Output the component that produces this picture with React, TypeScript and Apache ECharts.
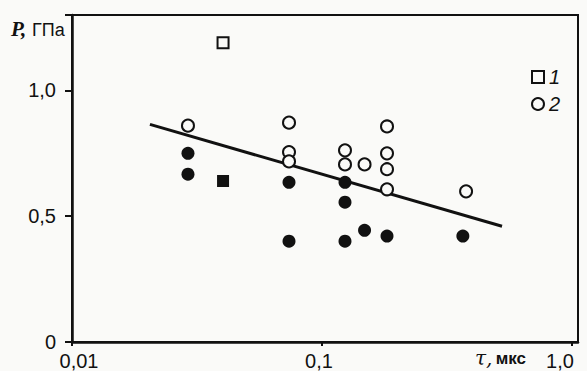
import { useEffect, useRef } from 'react';
import * as echarts from 'echarts';

const openSquares = [[0.0402, 1.19]];
const filledSquares = [[0.0402, 0.64]];
const openCircles = [
  [0.0291, 0.86], [0.0738, 0.872], [0.0738, 0.755], [0.0738, 0.718],
  [0.1236, 0.762], [0.1236, 0.706], [0.148, 0.706], [0.182, 0.857],
  [0.182, 0.75], [0.182, 0.687], [0.182, 0.607], [0.377, 0.599],
];
const filledCircles = [
  [0.0291, 0.75], [0.0291, 0.667], [0.0738, 0.635], [0.0738, 0.401],
  [0.1236, 0.635], [0.1236, 0.556], [0.1236, 0.401], [0.148, 0.444],
  [0.182, 0.421], [0.366, 0.421],
];
const trendLine = [[0.0205, 0.865], [0.525, 0.46]];
const xTicks = [0.01, 0.1, 1];
const xTickLabels = ['0,01', '0,1', '1,0'];
const xTickRich = ['a', 'b', 'c'];
const yTicks = [0, 0.5, 1];
const yTickLabels = ['0', '0,5', '1,0'];

const INK = '#111';
const BG = '#fafaf8';

export default function App() {
  const ref = useRef<HTMLDivElement>(null);
  useEffect(() => {
    if (!ref.current) return;
    const chart = echarts.init(ref.current, undefined, { renderer: 'svg' });
    const xFmt = (v: number) => {
      for (let i = 0; i < xTicks.length; i++) {
        if (Math.abs(Math.log10(v) - Math.log10(xTicks[i])) < 1e-6) return `{${xTickRich[i]}|${xTickLabels[i]}}`;
      }
      return '';
    };
    const yFmt = (v: number) => {
      for (let i = 0; i < yTicks.length; i++) {
        if (Math.abs(v - yTicks[i]) < 1e-6) return yTickLabels[i];
      }
      return '';
    };
    const openStyle = { color: BG, borderColor: INK, borderWidth: 2, opacity: 1 };
    const xRich = (pad: number[]) => ({ fontSize: 20, lineHeight: 18, fontFamily: 'Liberation Sans', color: INK, padding: pad });
    chart.setOption({
      animation: false,
      backgroundColor: BG,
      grid: {
        left: 72, right: 9, top: 15, bottom: 29, show: true, borderColor: INK, borderWidth: 2,
        backgroundColor: 'transparent', containLabel: false, outerBoundsMode: 'none',
      },
      xAxis: {
        type: 'log',
        logBase: 10,
        min: 0.01,
        max: 1.057,
        axisLine: { show: true, lineStyle: { color: INK, width: 2.5 } },
        axisTick: { show: true, inside: false, length: 4, lineStyle: { color: INK, width: 2 }, customValues: xTicks },
        axisLabel: {
          show: true,
          formatter: xFmt,
          customValues: xTicks,
          margin: 10,
          color: INK,
          fontSize: 20,
          fontFamily: 'Liberation Sans',
          rich: {
            a: xRich([0, 0, 0, 14]),
            b: xRich([0, 6, 0, 0]),
            c: xRich([0, 24, 0, 0]),
          },
        },
        splitLine: { show: false },
        minorTick: { show: false },
      },
      yAxis: {
        type: 'value',
        min: 0,
        max: 1.3,
        interval: 0.5,
        axisLine: { show: true, lineStyle: { color: INK, width: 2.5 } },
        axisTick: { show: true, inside: false, length: 7, lineStyle: { color: INK, width: 2 } },
        axisLabel: {
          formatter: yFmt,
          margin: 16,
          color: INK,
          fontSize: 20,
          fontFamily: 'Liberation Sans',
        },
        splitLine: { show: false },
      },
      legend: {
        data: ['1', '2'],
        orient: 'vertical',
        left: 526,
        top: 62,
        itemWidth: 12,
        itemHeight: 12,
        itemGap: 7,
        textStyle: { fontSize: 20, fontStyle: 'italic', fontFamily: 'Liberation Sans', color: INK },
      },
      graphic: [
        { type: 'text', x: 11, y: 29, style: { text: 'P,', fontSize: 21, fontStyle: 'italic', fontWeight: 'bold', fontFamily: 'Liberation Serif', fill: INK, verticalAlign: 'middle' } },
        { type: 'text', x: 32, y: 30, style: { text: 'ГПа', fontSize: 18, fontFamily: 'Liberation Sans', fill: INK, verticalAlign: 'middle' } },
        {
          type: 'text', x: 475, y: 358,
          style: {
            text: '{t|τ,} {m|мкс}',
            verticalAlign: 'middle',
            rich: {
              t: { fontSize: 20, lineHeight: 18, fontStyle: 'italic', fontFamily: 'DejaVu Serif', fill: INK, color: INK },
              m: { fontSize: 17, lineHeight: 18, fontWeight: 'bold', fontFamily: 'Liberation Sans', fill: INK, color: INK },
            },
          },
        },
      ],
      series: [
        {
          name: 'trend', type: 'line', data: trendLine, symbol: 'none', z: 1,
          lineStyle: { color: INK, width: 3 },
        },
        {
          name: '1', type: 'scatter', data: openSquares, symbol: 'rect', symbolSize: 11, z: 3,
          itemStyle: openStyle,
        },
        {
          name: '2', type: 'scatter', data: openCircles, symbol: 'circle', symbolSize: 12, z: 3,
          itemStyle: openStyle,
        },
        {
          name: 'filledCircles', type: 'scatter', data: filledCircles, symbol: 'circle', symbolSize: 13, z: 3,
          itemStyle: { color: INK, opacity: 1 },
        },
        {
          name: 'filledSquares', type: 'scatter', data: filledSquares, symbol: 'rect', symbolSize: 12, z: 3,
          itemStyle: { color: INK, opacity: 1 },
        },
      ],
    });
    return () => chart.dispose();
  }, []);
  return <div ref={ref} style={{ position: 'absolute', left: 0, top: 0, width: 587, height: 371 }} />;
}
